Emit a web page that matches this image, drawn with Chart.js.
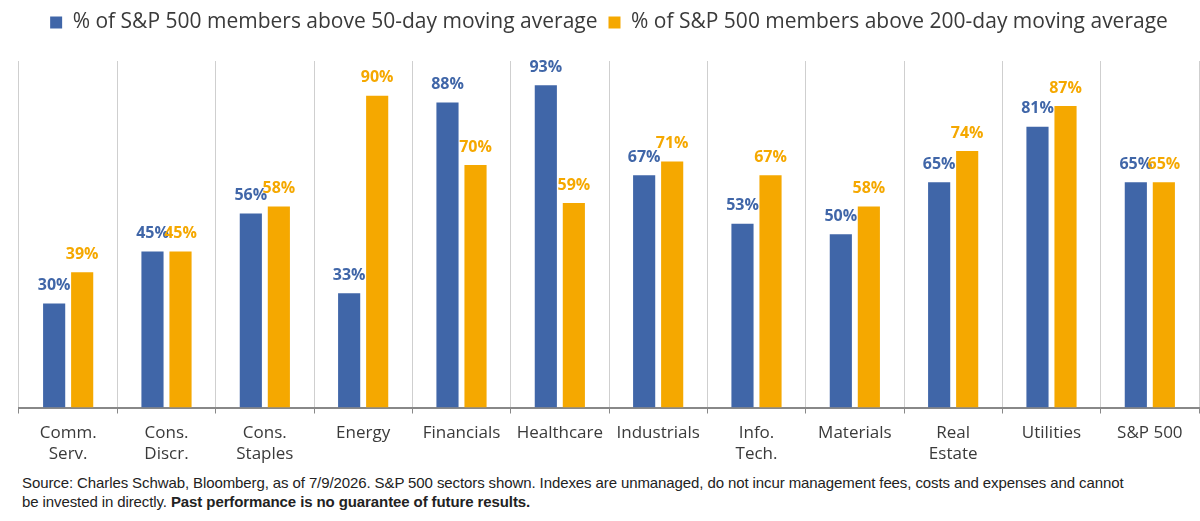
<!DOCTYPE html>
<html>
<head>
<meta charset="utf-8">
<script src="https://cdn.jsdelivr.net/npm/chart.js@4/dist/chart.umd.min.js"></script>
<style>
  body { margin: 0; background: #fff; }
  #wrap { position: relative; width: 1200px; height: 474px; }
  #note {
    font-family: "Liberation Sans Narrow", "Liberation Sans", Arial, sans-serif;
    font-size: 15px; color: #222; line-height: 19px;
    margin: -1px 0 0 22px; width: 1170px; letter-spacing: -0.1px;
  }
</style>
</head>
<body>
<div id="wrap"><canvas id="myChart" width="1200" height="474"></canvas></div>
<div id="note">Source: Charles Schwab, Bloomberg, as of 7/9/2026. S&amp;P 500 sectors shown. Indexes are unmanaged, do not incur management fees, costs and expenses and cannot<br>be invested in directly. <b>Past performance is no guarantee of future results.</b></div>
<script>
// sectors
var sectors = [
	['Comm.', 'Serv.'], ['Cons.', 'Discr.'], ['Cons.', 'Staples'], 'Energy', 'Financials', 'Healthcare',
	'Industrials', ['Info.', 'Tech.'], 'Materials', ['Real', 'Estate'], 'Utilities', 'S&P 500'
];
var above50 = [30, 45, 56, 33, 88, 93, 67, 53, 50, 65, 81, 65];
var above200 = [39, 45, 58, 90, 70, 59, 71, 67, 58, 74, 87, 65];

var BLUE = '#4066a8', ORANGE = '#f5a800', TEXT = '#3a3a3a';

/* value labels over the bars */
var barLabels = {
	id: 'barLabels',
	afterDatasetsDraw: function(chart) {
		var ctx = chart.ctx;
		ctx.save();
		ctx.font = 'bold 16px "Open Sans", "Liberation Sans", sans-serif';
		ctx.textAlign = 'center';
		ctx.textBaseline = 'middle';
		chart.data.datasets.forEach(function(ds, i) {
			ctx.fillStyle = ds.backgroundColor;
			chart.getDatasetMeta(i).data.forEach(function(bar, j) {
				ctx.fillText(ds.data[j] + '%', bar.x, bar.y - 18);
			});
		});
		ctx.restore();
	}
};

/* legend sits high, leave room below it */
var legendSpace = {
	id: 'legendSpace',
	beforeInit: function(chart) {
		var fit = chart.legend.fit;
		chart.legend.fit = function() {
			fit.bind(chart.legend)();
			this.height += 18;
		};
	}
};

new Chart(document.getElementById('myChart').getContext('2d'), {
	type: 'bar',
	data: {
		labels: sectors,
		datasets: [{
			label: '% of S&P 500 members above 50-day moving average',
			data: above50,
			backgroundColor: BLUE
		}, {
			label: '% of S&P 500 members above 200-day moving average',
			data: above200,
			backgroundColor: ORANGE
		}]
	},
	options: {
		responsive: false,
		animation: false,
		categoryPercentage: 0.57,
		barPercentage: 0.79,
		layout: { padding: { left: 19, right: 1, top: 1 } },
		plugins: {
			tooltip: { enabled: false },
			legend: {
				labels: {
					boxWidth: 12, boxHeight: 12, padding: 11,
					color: TEXT,
					font: { size: 21, family: '"Open Sans", "Liberation Sans", sans-serif' }
				}
			}
		},
		scales: {
			x: {
				grid: { color: '#cfcfcf', tickLength: 6, tickColor: '#888' },
				border: { color: '#888', width: 2 },
				ticks: {
					color: TEXT, padding: 9,
					font: { size: 17, family: '"Open Sans", "Liberation Sans", sans-serif', lineHeight: 1.25 }
				}
			},
			y: { display: false, min: 0, max: 100 }
		}
	},
	plugins: [barLabels, legendSpace]
});
</script>
</body>
</html>
